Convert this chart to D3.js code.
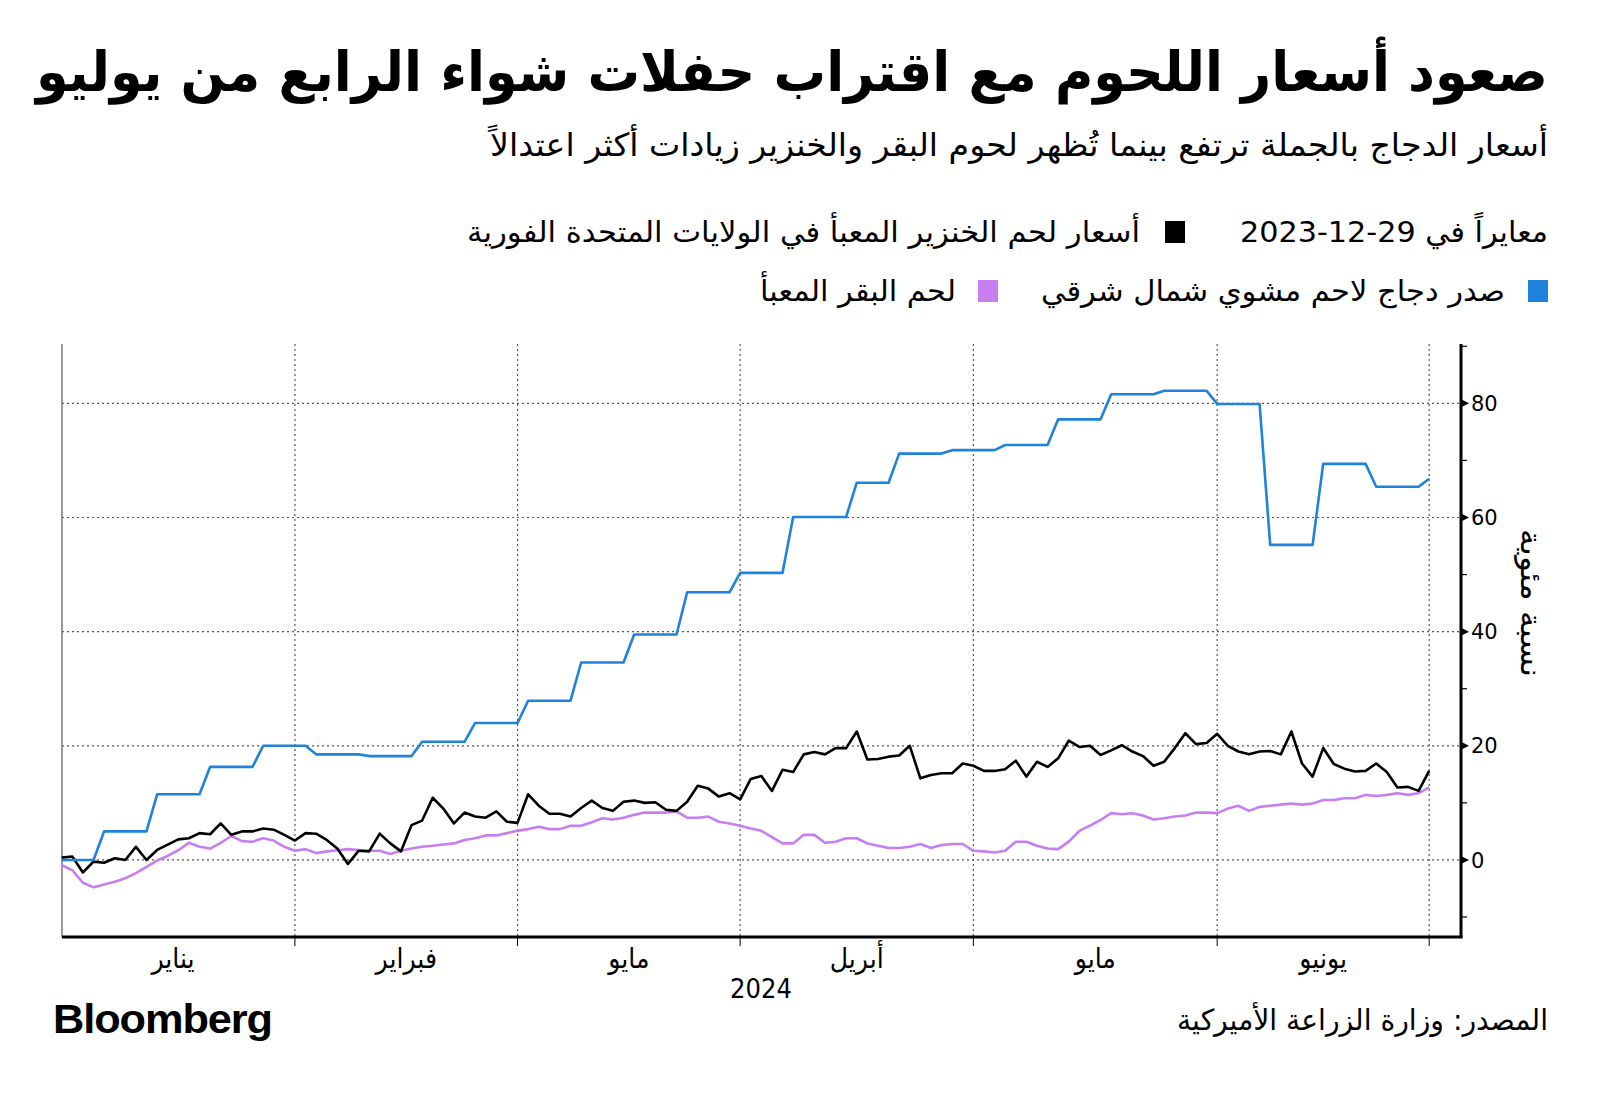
<!DOCTYPE html>
<html><head><meta charset="utf-8">
<script src="https://cdn.jsdelivr.net/npm/d3@7"></script>
<style>
html,body{margin:0;padding:0;background:#fff;}
svg{display:block;}
.ar{font-family:"DejaVu Sans Condensed","DejaVu Sans",sans-serif;font-stretch:condensed;}
</style></head>
<body>
<svg id="chart" width="1600" height="1098"></svg>
<script>
// ---------- DATA ----------
const title = "صعود أسعار اللحوم مع اقتراب حفلات شواء الرابع من يوليو";
const subtitle = "أسعار الدجاج بالجملة ترتفع بينما تُظهر لحوم البقر والخنزير زيادات أكثر اعتدالاً";
const legendHeader = "معايراً في 29-12-2023";
const seriesNames = ["أسعار لحم الخنزير المعبأ في الولايات المتحدة الفورية", "صدر دجاج لاحم مشوي شمال شرقي", "لحم البقر المعبأ"];
const seriesColors = ["#000000", "#1f82db", "#c77ef0"];
const yAxisTitle = "نسبة مئوية";
const source = "المصدر: وزارة الزراعة الأميركية";
const yearLabel = "2024";
const startDate = "2024-01-02"; // first trading day (index 0)
const monthStarts = ["2024-01-01", "2024-02-01", "2024-03-01", "2024-04-01", "2024-05-01", "2024-06-03", "2024-07-01"];
const monthLabels = ["يناير", "فبراير", "مايو", "أبريل", "مايو", "يونيو"];
const yTicks = [0, 20, 40, 60, 80];
const yMinorTicks = [-10, 10, 30, 50, 70, 90];

// pork cutout, daily (weekday) values from 2024-01-02
const pork = [0.4,0.6,-2.2,-0.3,-0.5,0.3,0.0,2.3,0.0,1.75,
2.7,3.6,3.8,4.7,4.5,6.4,4.4,5.0,5.0,5.5,
5.3,4.4,3.4,4.7,4.6,3.5,2.0,-0.7,1.6,1.5,
4.6,2.9,1.5,6.1,6.9,10.9,9.0,6.4,8.3,7.6,
7.4,8.5,6.7,6.5,11.5,9.5,8.1,8.1,7.6,9.1,
10.4,9.1,8.6,10.2,10.4,10.0,10.1,8.8,8.6,10.2,
13.0,12.5,11.1,11.7,10.6,14.2,14.7,12.1,15.8,15.4,
18.5,18.9,18.5,19.6,19.6,22.5,17.6,17.7,18.1,18.3,
20.0,14.3,14.9,15.2,15.2,16.9,16.5,15.6,15.6,15.9,
17.4,14.6,17.2,16.3,17.8,20.9,19.8,20.0,18.4,19.2,
20.1,19.0,18.2,16.5,17.2,19.6,22.2,20.3,20.5,22.1,
20.0,19.0,18.5,19.0,19.1,18.5,22.5,16.9,14.6,19.6,
16.8,16.0,15.5,15.6,16.9,15.4,12.7,12.8,12.1,15.6];

// beef cutout, daily (weekday) values from 2024-01-02
const beef = [-0.9,-1.8,-4.0,-4.8,-4.3,-3.8,-3.2,-2.3,-1.2,-0.1,
0.7,1.7,3.0,2.3,2.0,3.0,4.2,3.3,3.2,3.8,
3.4,2.3,1.6,1.9,1.2,1.5,1.7,1.9,1.75,1.6,
1.6,1.05,1.6,2.0,2.3,2.5,2.7,2.9,3.5,3.8,
4.3,4.3,4.7,5.1,5.4,5.8,5.4,5.4,6.0,6.0,
6.6,7.3,7.1,7.4,7.9,8.3,8.3,8.3,8.5,7.4,
7.4,7.6,6.7,6.4,6.0,5.5,5.1,4.0,2.9,2.9,
4.4,4.4,3.0,3.2,3.8,3.8,2.9,2.5,2.1,2.1,
2.3,2.8,2.1,2.6,2.8,2.8,1.6,1.5,1.3,1.6,
3.2,3.2,2.5,2.0,1.9,3.2,5.1,6.0,7.0,8.2,
8.0,8.2,7.8,7.1,7.3,7.6,7.8,8.3,8.3,8.2,
9.0,9.5,8.6,9.3,9.5,9.7,9.9,9.7,9.9,10.5,
10.5,10.8,10.8,11.4,11.2,11.4,11.7,11.4,11.7,12.7];

// chicken breast, weekly price changes: [trading-day index, value]
const chicken = [[0,0],[3,0],[4,5],[8,5],[9,11.5],[13,11.5],[14,16.3],[18,16.3],[19,20],[23,20],
[24,18.5],[28,18.5],[29,18.2],[33,18.2],[34,20.7],[38,20.7],[39,24],[43,24],[44,27.9],[48,27.9],
[49,34.6],[53,34.6],[54,39.5],[58,39.5],[59,46.9],[63,46.9],[64,50.3],[68,50.3],[69,60.1],[74,60.1],
[75,66.1],[78,66.1],[79,71.2],[83,71.2],[84,71.8],[88,71.8],[89,72.7],[93,72.7],[94,77.2],[98,77.2],
[99,81.6],[103,81.6],[104,82.2],[108,82.2],[109,79.9],[113,79.9],[114,55.2],[118,55.2],[119,69.4],[123,69.4],
[124,65.4],[128,65.4],[129,66.8]];

// ---------- HELPERS ----------
const parse = d3.timeParse("%Y-%m-%d");
const t0 = parse(startDate);
function tradingIndex(s) {
  const d = parse(s);
  if (d < t0) return -d3.timeDay.range(d, t0).filter(x => x.getDay() % 6 !== 0).length;
  return d3.timeDay.range(t0, d).filter(x => x.getDay() % 6 !== 0).length;
}

// ---------- LAYOUT ----------
const svg = d3.select("#chart");
const P = {left: 62, right: 1461, top: 344, bottom: 937};
const x = d3.scaleLinear().domain([0, 132]).range([61.7, 1461]);
const y = d3.scaleLinear().domain([-13.5, 90.4]).range([P.bottom, P.top]);

// title & subtitle
svg.append("text").attr("class", "ar").attr("x", 1548).attr("y", 91)
  .attr("text-anchor", "end").attr("font-size", 55).attr("font-weight", "bold")
  .attr("textLength", 1512).attr("lengthAdjust", "spacingAndGlyphs").text(title);
svg.append("text").attr("class", "ar").attr("x", 1548).attr("y", 156)
  .attr("text-anchor", "end").attr("font-size", 32)
  .attr("textLength", 1058).attr("lengthAdjust", "spacingAndGlyphs").text(subtitle);

// legend
svg.append("text").attr("class", "ar").attr("x", 1548).attr("y", 242)
  .attr("text-anchor", "end").attr("font-size", 29)
  .attr("textLength", 308).attr("lengthAdjust", "spacingAndGlyphs")
  .text("\u202B" + legendHeader + "\u202C");
const legendItems = [
  {name: seriesNames[0], color: seriesColors[0], sq: 1165, tx: 1140, len: 673, yy: 242},
  {name: seriesNames[1], color: seriesColors[1], sq: 1528, tx: 1505, len: 464, yy: 301},
  {name: seriesNames[2], color: seriesColors[2], sq: 978, tx: 956, len: 196, yy: 301}
];
legendItems.forEach(it => {
  svg.append("rect").attr("x", it.sq).attr("y", it.yy - 21).attr("width", 20).attr("height", 22).attr("fill", it.color);
  svg.append("text").attr("class", "ar").attr("x", it.tx).attr("y", it.yy)
    .attr("text-anchor", "end").attr("font-size", 29)
    .attr("textLength", it.len).attr("lengthAdjust", "spacingAndGlyphs").text(it.name);
});

// gridlines
const gridColor = "#555";
svg.append("g").selectAll("line").data(yTicks).join("line")
  .attr("x1", P.left).attr("x2", P.right).attr("y1", d => y(d)).attr("y2", d => y(d))
  .attr("stroke", gridColor).attr("stroke-width", 1.2).attr("stroke-dasharray", "2,3");
const monthIdx = monthStarts.map(tradingIndex);
svg.append("g").selectAll("line").data(monthIdx.slice(1)).join("line")
  .attr("x1", d => x(d)).attr("x2", d => x(d)).attr("y1", P.top).attr("y2", P.bottom)
  .attr("stroke", gridColor).attr("stroke-width", 1.2).attr("stroke-dasharray", "2,3");

// left thin axis
svg.append("line").attr("x1", P.left).attr("x2", P.left).attr("y1", P.top).attr("y2", P.bottom)
  .attr("stroke", "#777").attr("stroke-width", 1.5);

// lines
const lineGen = d3.line().x(d => x(d[0])).y(d => y(d[1]));
svg.append("path").datum(beef.map((v, i) => [i, v])).attr("d", lineGen)
  .attr("fill", "none").attr("stroke", seriesColors[2]).attr("stroke-width", 2.6).attr("stroke-linejoin", "round");
svg.append("path").datum(pork.map((v, i) => [i, v])).attr("d", lineGen)
  .attr("fill", "none").attr("stroke", seriesColors[0]).attr("stroke-width", 2.6).attr("stroke-linejoin", "round");
svg.append("path").datum(chicken).attr("d", lineGen)
  .attr("fill", "none").attr("stroke", seriesColors[1]).attr("stroke-width", 2.6).attr("stroke-linejoin", "round");

// right y axis
const yAxis = svg.append("g").attr("transform", `translate(${P.right},0)`);
yAxis.append("line").attr("x1", 0).attr("x2", 0).attr("y1", P.top).attr("y2", P.bottom + 1)
  .attr("stroke", "#000").attr("stroke-width", 3);
yAxis.selectAll(".minor").data(yMinorTicks).join("line").attr("class", "minor")
  .attr("x1", 0).attr("x2", 6).attr("y1", d => y(d)).attr("y2", d => y(d))
  .attr("stroke", "#000").attr("stroke-width", 1.2);
yAxis.selectAll(".tri").data(yTicks).join("path").attr("class", "tri")
  .attr("d", d => `M1,${y(d) - 3.5}L8,${y(d)}L1,${y(d) + 3.5}Z`).attr("fill", "#000");
yAxis.selectAll(".lab").data(yTicks).join("text").attr("class", "lab")
  .attr("x", 10).attr("y", d => y(d)).attr("dy", "0.36em")
  .attr("font-family", "DejaVu Sans, sans-serif").attr("font-size", 21).text(d => d);
svg.append("text").attr("class", "ar").attr("transform", `translate(1521,${y(45)}) rotate(90)`)
  .attr("text-anchor", "middle").attr("font-size", 29)
  .attr("textLength", 148).attr("lengthAdjust", "spacingAndGlyphs").text(yAxisTitle);

// bottom x axis
svg.append("line").attr("x1", P.left).attr("x2", P.right + 1.5).attr("y1", P.bottom).attr("y2", P.bottom)
  .attr("stroke", "#000").attr("stroke-width", 3);
svg.append("g").selectAll("line").data(monthIdx.slice(1)).join("line")
  .attr("x1", d => x(d)).attr("x2", d => x(d)).attr("y1", P.bottom).attr("y2", P.bottom + 9)
  .attr("stroke", "#000").attr("stroke-width", 1);
svg.append("g").selectAll("text").data(monthLabels).join("text").attr("class", "ar")
  .attr("x", (d, i) => x((monthIdx[i] + monthIdx[i + 1]) / 2)).attr("y", 968)
  .attr("text-anchor", "middle").attr("font-size", 28).text(d => d);
svg.append("text").attr("class", "ar").attr("x", 761).attr("y", 998)
  .attr("text-anchor", "middle").attr("font-size", 27).text(yearLabel);

// footer
svg.append("text").attr("x", 53).attr("y", 1033)
  .attr("font-family", "Liberation Sans, Arial, sans-serif").attr("font-weight", "bold").attr("font-size", 40)
  .attr("textLength", 219).attr("lengthAdjust", "spacingAndGlyphs").attr("letter-spacing", -1).text("Bloomberg");
svg.append("text").attr("class", "ar").attr("x", 1548).attr("y", 1030)
  .attr("text-anchor", "end").attr("font-size", 29)
  .attr("textLength", 371).attr("lengthAdjust", "spacingAndGlyphs").text(source);
</script>
</body></html>
